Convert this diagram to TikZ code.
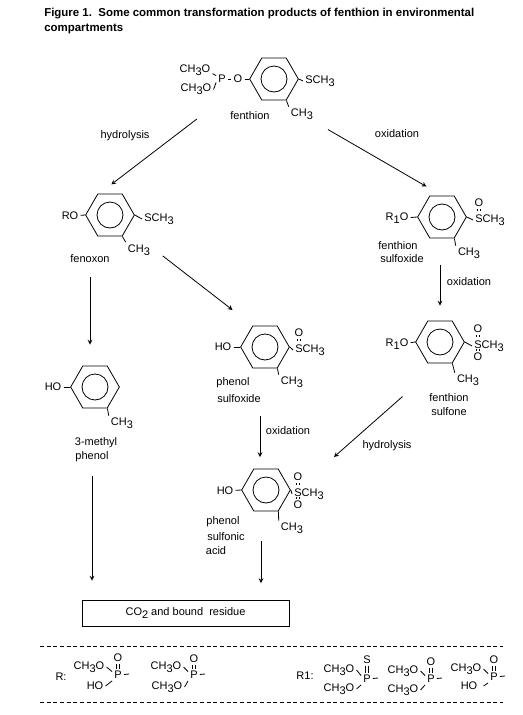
\documentclass[tikz,border=0pt]{standalone}
\usepackage{fontspec}
\setmainfont{Liberation Sans}
\usetikzlibrary{shapes.geometric}
\newcommand{\low}[1]{\raisebox{-0.3em}{#1}}
\newcommand{\mch}{CH\low{3}}
\newcommand{\mchO}{CH\low{3}O}
\newcommand{\msch}{SCH\low{3}}
\newcommand{\dblbond}[3][0pt]{%
  \draw[bond] ([xshift=-0.9pt]#2) -- ([xshift=-0.9pt,yshift=#1]#3);
  \draw[bond] ([xshift=0.9pt]#2) -- ([xshift=0.9pt,yshift=#1]#3);}
\begin{document}
\begin{tikzpicture}[
        x=0.75pt, y=-0.75pt,
        every node/.style={font=\fontsize{8.25}{11.25}\selectfont, inner sep=1.5pt},
        ring/.style={regular polygon, regular polygon sides=6,
            minimum size=36.5pt, inner sep=0pt, draw, line width=0.6pt},
        hole/.style={circle, minimum size=19.5pt, inner sep=0pt, draw, line width=0.6pt},
        bond/.style={line width=0.6pt},
        arrow/.style={->, >=stealth, line width=0.6pt},
        resbox/.style={rectangle, minimum width=155.25pt, minimum height=19.5pt,
            draw, line width=0.6pt},
        rule/.style={densely dashed, line width=0.6pt}
      ]
      \useasboundingbox (0,0) rectangle (522,715);
      \node[anchor=west, align=left, font=\fontsize{8.6}{11.25}\selectfont\bfseries] (title) at (42,21.5)
      {Figure 1.\ \ Some common transformation products of fenthion in environmental\\compartments};

      \node[ring] (r1) at (274,79) {};
      \node[hole] (h1) at (r1) {};
      \node (ca1) at (195,70.5) {\mchO};
      \node (cb1) at (196,89.5) {\mchO};
      \node (p1) at (222,79) {P};
      \node (o1) at (238,79) {O};
      \node (s1) at (320,81) {\msch};
      \node (m1) at (302,114.5) {\mch};
      \node (lb1) at (250,116) {fenthion};
      \draw[bond] (ca1.-10) -- (p1.150);
      \draw[bond] (cb1.east) -- (p1.210);
      \draw[bond] (p1) -- (o1);
      \draw[bond] (o1) -- (r1.west);
      \draw[bond] (r1.east) -- (s1.west);
      \draw[bond] (r1.-60) -- (m1.north west);

      \node[ring] (r2) at (110,215) {};
      \node[hole] (h2) at (r2) {};
      \node (ro2) at (70,216) {RO};
      \node (s2) at (159,219) {\msch};
      \node (m2) at (139,250) {\mch};
      \node (lb2) at (90,259) {fenoxon};
      \draw[bond] (ro2) -- (r2.west);
      \draw[bond] (r2.east) -- (s2.west);
      \draw[bond] (r2.-60) -- (m2.north west);

      \node[ring] (r3) at (442,217) {};
      \node[hole] (h3) at (r3) {};
      \node (ro3) at (397,218.5) {R\low{1}O};
      \node (s3) at (490,220) {\msch};
      \node (o3) at (479,203) {O};
      \node (m3) at (469,253.5) {\mch};
      \node (lb3a) at (398,246) {fenthion};
      \node (lb3b) at (402,259) {sulfoxide};
      \draw[bond] (ro3) -- (r3.west);
      \draw[bond] (r3.east) -- (s3.west);
      \draw[bond] (r3.-60) -- (m3.north west);
      \dblbond[-1.5pt]{o3.south}{o3.south}

      \node[ring] (r5) at (440,342) {};
      \node[hole] (h5) at (r5) {};
      \node (ro5) at (397,344.5) {R\low{1}O};
      \node (s5) at (489,346) {\msch};
      \node (oa5) at (478,329) {O};
      \node (ob5) at (478,357) {O};
      \node (m5) at (468,380.5) {\mch};
      \node (lb5a) at (449,398) {fenthion};
      \node (lb5b) at (449,412) {sulfone};
      \draw[bond] (ro5) -- (r5.west);
      \draw[bond] (r5.east) -- (s5.west);
      \draw[bond] (r5.-60) -- (m5.north west);
      \dblbond[-1.5pt]{oa5.south}{oa5.south}
      \dblbond[1.5pt]{ob5.north}{ob5.north}

      \node[ring] (r4) at (265,347) {};
      \node[hole] (h4) at (r4) {};
      \node (ho4) at (223,347) {HO};
      \node (s4) at (310,350) {\msch};
      \node (o4) at (299,333) {O};
      \node (m4) at (292,382.5) {\mch};
      \node (lb4a) at (233,383) {phenol};
      \node (lb4b) at (239,399) {sulfoxide};
      \draw[bond] (ho4) -- (r4.west);
      \draw[bond] (r4.east) -- (s4.west);
      \draw[bond] (r4.-60) -- (m4.north west);
      \dblbond[-1.5pt]{o4.south}{o4.south}

      \node[ring] (r6) at (95,387) {};
      \node[hole] (h6) at (r6) {};
      \node (ho6) at (53,387) {HO};
      \node (m6) at (122,423.5) {\mch};
      \node (lb6a) at (96,443) {3-methyl};
      \node (lb6b) at (92,457) {phenol};
      \draw[bond] (ho6) -- (r6.west);
      \draw[bond] (r6.-60) -- (m6.north west);

      \node[ring] (r7) at (266,490) {};
      \node[hole] (h7) at (r7) {};
      \node (ho7) at (225,491) {HO};
      \node (s7) at (309,494) {\msch};
      \node (oa7) at (298,477) {O};
      \node (ob7) at (298,505) {O};
      \node (m7) at (292,528.5) {\mch};
      \node (lb7a) at (223,522) {phenol};
      \node (lb7b) at (226,537) {sulfonic};
      \node (lb7c) at (216,551) {acid};
      \draw[bond] (ho7) -- (r7.west);
      \draw[bond] (r7.east) -- (s7.west);
      \draw[bond] (r7.-60) -- (m7.north west);
      \dblbond[-1.5pt]{oa7.south}{oa7.south}
      \dblbond[1.5pt]{ob7.north}{ob7.north}

      \node[resbox] (box) at (185.5,613) {CO\low{2} and bound\ \ residue};

      \node (hyd1) at (125,136) {hydrolysis};
      \node (oxi1) at (397,134) {oxidation};
      \node (oxi2) at (469,282) {oxidation};
      \node (oxi3) at (288,431) {oxidation};
      \node (hyd2) at (387,446) {hydrolysis};
      \coordinate (tip6) at (260,457);
      \coordinate (tip7) at (334,457);
      \coordinate (tip9) at (261,583);
      \draw[arrow, shorten <=49.5pt, shorten >=39pt] (r1.west) -- (ro2.center);
      \draw[arrow, shorten <=22.5pt, shorten >=13.5pt] (m1.center) -- (r3.north);
      \draw[arrow, shorten <=9pt, shorten >=15.75pt] (lb2.south) -- (lb2.south |- r6.north);
      \draw[arrow, shorten <=50pt, shorten >=19pt] (r2.center) -- (r4.120);
      \draw[arrow, shorten >=11.25pt] (r5.north |- lb3b.south) -- (r5.north);
      \draw[arrow, shorten <=36pt] (r4.south -| tip6) -- (tip6);
      \draw[arrow, shorten <=37.5pt] (r5.south) -- (tip7);
      \draw[arrow, shorten <=9pt, shorten >=14.25pt] (lb6b.south) -- (lb6b.south |- box.north);
      \draw[arrow, shorten <=22.5pt] (r7.south -| tip9) -- (tip9);

      \draw[rule] (40,646) -- (503,646);
      \draw[rule] (40,702) -- (503,702);

      \node (rlab) at (61,677) {R:};
      \node (ca8) at (89,667) {\mchO};
      \node (hb8) at (95,686) {HO};
      \node (p8) at (118,675) {P};
      \node (o8) at (118,658) {O};
      \coordinate (e8) at (129,674);
      \draw[bond] (ca8.east) -- (p8.150);
      \draw[bond] (hb8.east) -- (p8.225);
      \dblbond{o8.south}{p8.north}
      \draw[bond] (p8) -- (e8);

      \node (ca9) at (166,667) {\mchO};
      \node (cb9) at (167,687) {\mchO};
      \node (p9) at (194,675) {P};
      \node (o9) at (194,659) {O};
      \coordinate (e9) at (205,674);
      \draw[bond] (ca9.east) -- (p9.150);
      \draw[bond] (cb9.east) -- (p9.225);
      \dblbond{o9.south}{p9.north}
      \draw[bond] (p9) -- (e9);

      \node (rolab) at (305,676) {R1:};
      \node (ca10) at (339,670) {\mchO};
      \node (cb10) at (339,689) {\mchO};
      \node (p10) at (367,679) {P};
      \node (o10) at (367,660) {S};
      \coordinate (e10) at (378,678);
      \draw[bond] (ca10.east) -- (p10.150);
      \draw[bond] (cb10.east) -- (p10.225);
      \dblbond{o10.south}{p10.north}
      \draw[bond] (p10) -- (e10);

      \node (ca11) at (403,671) {\mchO};
      \node (cb11) at (403,690) {\mchO};
      \node (p11) at (431,679) {P};
      \node (o11) at (431,662) {O};
      \coordinate (e11) at (442,678);
      \draw[bond] (ca11.east) -- (p11.150);
      \draw[bond] (cb11.east) -- (p11.225);
      \dblbond{o11.south}{p11.north}
      \draw[bond] (p11) -- (e11);

      \node (ca12) at (466,669) {\mchO};
      \node (hb12) at (469,686) {HO};
      \node (p12) at (494,677) {P};
      \node (o12) at (494,660) {O};
      \coordinate (e12) at (505,676);
      \draw[bond] (ca12.east) -- (p12.150);
      \draw[bond] ([xshift=3pt]hb12.east) -- (p12.225);
      \dblbond{o12.south}{p12.north}
      \draw[bond] (p12) -- (e12);
    \end{tikzpicture}
\end{document}
